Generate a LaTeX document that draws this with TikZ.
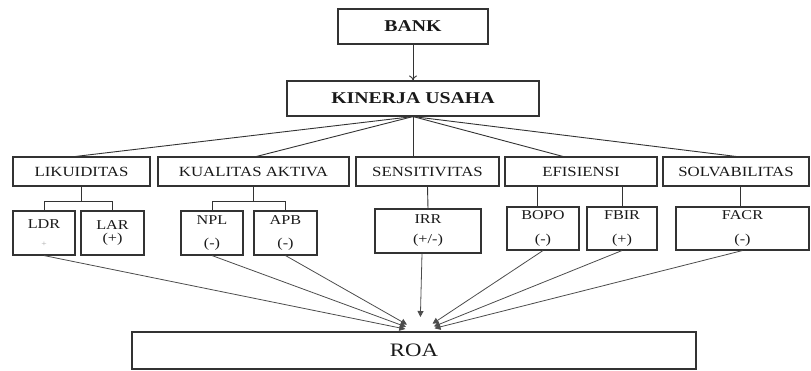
\documentclass[tikz,border=0pt]{standalone}
\usepackage{fontspec}
\newfontfamily\tf[FakeStretch=1.2]{Liberation Serif}
\usetikzlibrary{arrows.meta,calc}
\begin{document}
\begin{tikzpicture}[x=1pt,y=-1pt,
  box/.style={draw=black!80, line width=1.1pt, inner sep=0pt, align=center, text=black!90},
  hd/.style={font=\tf\bfseries\fontsize{16.5}{18}\selectfont},
  cat/.style={font=\tf\fontsize{14}{16}\selectfont},
  ind/.style={font=\tf\fontsize{13.5}{15}\selectfont},
  link/.style={draw=black!80, line width=0.9pt},
  toroa/.style={draw=black!70, line width=0.8pt, -{Triangle[length=6pt,width=6pt]}}]
\useasboundingbox (0,0) rectangle (811,370);
% top
\node[box,hd,minimum width=150pt,minimum height=35pt] (bank) at (413,26.5) {BANK};
\node[box,hd,minimum width=252pt,minimum height=35pt] (kin) at (413,98.5) {KINERJA USAHA};
\draw[link,-{To[length=5pt,width=8pt]}] (bank) -- (kin);
% categories
\node[box,cat,minimum width=137pt,minimum height=29pt] (lik) at (81.5,171.5) {LIKUIDITAS};
\node[box,cat,minimum width=191pt,minimum height=29pt] (kua) at (253.5,171.5) {KUALITAS AKTIVA};
\node[box,cat,minimum width=143pt,minimum height=29pt] (sen) at (427.5,171.5) {SENSITIVITAS};
\node[box,cat,minimum width=152pt,minimum height=29pt] (efi) at (581,171.5) {EFISIENSI};
\node[box,cat,minimum width=146pt,minimum height=29pt] (sol) at (736,171.5) {SOLVABILITAS};
\draw[link] (kin.south) -- ([xshift=-6pt]lik.north);
\draw[link] (kin.south) -- ([xshift=3pt]kua.north);
\draw[link] (kin.south) -- (kin.south |- sen.north);
\draw[link] (kin.south) -- ([xshift=-18pt]efi.north);
\draw[link] (kin.south) -- (sol.north);
% indicators
\node[box,ind,minimum width=62pt,minimum height=44pt] (ldr) at (44,233) {LDR\\[3pt]{\color{black!35}\fontsize{8}{9}\selectfont +}};
\node[box,ind,minimum width=63pt,minimum height=44pt] (lar) at (112.5,233) {LAR\\[-2.5pt](+)};
\node[box,ind,minimum width=62pt,minimum height=44pt] (npl) at (212,233) {NPL\\[8pt](-)};
\node[box,ind,minimum width=63pt,minimum height=44pt] (apb) at (285.5,233) {APB\\[8pt](-)};
\node[box,ind,minimum width=106pt,minimum height=44pt] (irr) at (428,231) {IRR\\[5pt](+/-)};
\node[box,ind,minimum width=72pt,minimum height=43pt] (bopo) at (543,228.5) {BOPO\\[9pt](-)};
\node[box,ind,minimum width=70pt,minimum height=43pt] (fbir) at (622,228.5) {FBIR\\[9pt](+)};
\node[box,ind,minimum width=133pt,minimum height=43pt] (facr) at (742.5,228.5) {FACR\\[9pt](-)};
% tree connectors
\coordinate (likj) at ($(lik.south)+(0,15)$);
\draw[link] (lik.south) -- (likj);
\draw[link] (ldr.north) |- (likj) -| (lar.north);
\coordinate (kuaj) at ($(kua.south)+(0,15)$);
\draw[link] (kua.south) -- (kuaj);
\draw[link] (npl.north) |- (kuaj) -| (apb.north);
\draw[link] (sen.south) -- (irr.north);
\coordinate (b1) at ($(bopo.north)+(-6,0)$);
\draw[link] (b1) -- (b1 |- efi.south);
\draw[link] (fbir.north) -- (fbir.north |- efi.south);
\coordinate (f1) at ($(facr.north)+(-2,0)$);
\draw[link] (f1) -- (f1 |- sol.south);
% ROA
\node[box,font=\tf\fontsize{19}{21}\selectfont,minimum width=564pt,minimum height=37pt] (roa) at (414,350.5) {ROA};
\coordinate (c) at (420,332);
\coordinate (i1) at ($(irr.south)+(-6,0)$);
\foreach \s in {ldr,npl,apb,bopo,fbir,facr}
  \draw[toroa] (\s.south) -- ($(c)!15pt!(\s.south)$);
\draw[toroa] (i1) -- ($(c)!15pt!(i1)$);
\end{tikzpicture}
\end{document}
